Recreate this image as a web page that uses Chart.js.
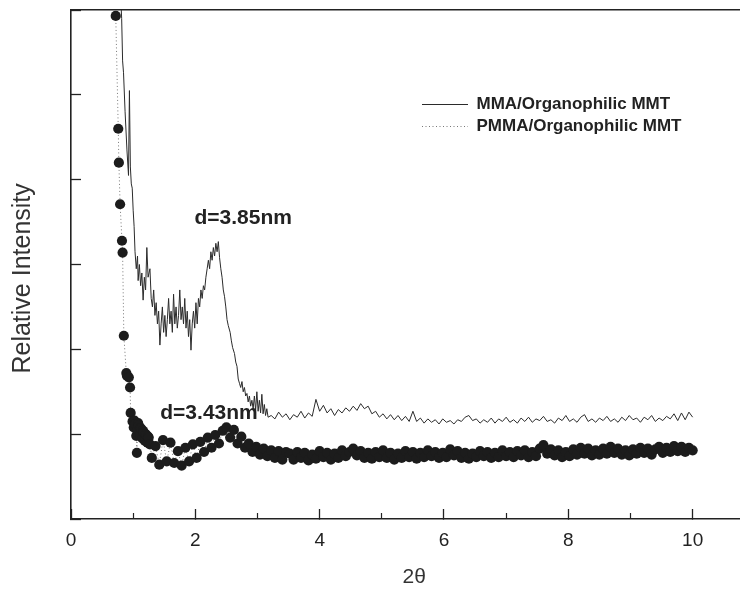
<!DOCTYPE html>
<html>
<head>
<meta charset="utf-8">
<script src="https://cdn.jsdelivr.net/npm/chart.js@4.4.1/dist/chart.umd.min.js"></script>
<style>
  html, body { margin: 0; padding: 0; background: #fff; }
  #wrap { width: 745px; height: 594px; }
</style>
</head>
<body>
<div id="wrap"><canvas id="xrdChart"></canvas></div>
<script>
const FONT = "'Liberation Sans', Arial, Helvetica, sans-serif";

// axes
const xMax = 10.76;
const xMajorTicks = [0, 2, 4, 6, 8, 10];
const xMinorTicks = [1, 3, 5, 7, 9];
const yTicks = [0, 1, 2, 3, 4, 5, 6];

// MMA/Organophilic MMT (solid line) - steep part read point by point
const mmaHead = [
  [0.79, 6.3], [0.815, 5.9], [0.83, 5.4], [0.845, 5.26], [0.87, 4.8], [0.90, 4.35],
  [0.925, 4.05], [0.94, 5.05], [0.955, 4.15], [0.97, 3.95], [0.985, 3.9], [1.00, 3.64],
  [1.015, 3.45], [1.03, 3.15], [1.05, 2.95], [1.07, 3.1], [1.08, 2.81], [1.10, 3.0],
  [1.12, 2.75], [1.14, 2.9], [1.16, 2.58], [1.18, 2.85], [1.20, 2.7], [1.22, 3.2],
  [1.24, 2.85], [1.27, 2.95], [1.29, 2.6], [1.31, 2.5], [1.33, 2.7], [1.35, 2.4],
  [1.37, 2.55], [1.39, 2.3], [1.41, 2.45], [1.43, 2.05], [1.45, 2.3], [1.47, 2.5],
  [1.49, 2.2], [1.51, 2.4], [1.53, 2.15], [1.55, 2.35], [1.57, 2.6], [1.59, 2.3],
  [1.61, 2.45], [1.63, 2.2], [1.65, 2.65], [1.67, 2.3], [1.69, 2.5], [1.71, 2.25],
  [1.73, 2.4], [1.75, 2.7], [1.77, 2.35], [1.79, 2.5], [1.81, 2.3], [1.83, 2.6],
  [1.85, 2.25], [1.87, 2.45], [1.89, 2.15], [1.91, 2.35], [1.93, 1.99], [1.95, 2.3],
  [1.97, 2.45], [1.99, 2.25], [2.01, 2.55], [2.03, 2.3], [2.05, 2.6], [2.07, 2.5],
  [2.09, 2.7], [2.11, 2.6], [2.13, 2.75], [2.15, 2.7], [2.17, 2.85], [2.19, 2.95],
  [2.21, 3.05], [2.23, 2.95], [2.25, 3.15], [2.27, 3.05], [2.29, 3.2], [2.31, 3.1],
  [2.33, 3.25], [2.35, 3.15], [2.37, 3.27], [2.39, 3.08], [2.41, 2.95], [2.43, 2.85],
  [2.45, 2.7], [2.47, 2.62], [2.49, 2.5], [2.51, 2.35], [2.53, 2.28], [2.56, 2.2],
  [2.58, 2.1], [2.60, 2.02], [2.63, 1.95], [2.65, 1.85], [2.67, 1.8], [2.69, 1.65],
  [2.71, 1.6], [2.73, 1.55], [2.75, 1.62], [2.77, 1.5], [2.79, 1.55], [2.81, 1.45],
  [2.83, 1.48], [2.85, 1.38], [2.87, 1.45], [2.89, 1.33], [2.91, 1.4], [2.93, 1.3],
  [2.95, 1.45], [2.97, 1.28], [2.99, 1.5], [3.01, 1.27], [3.03, 1.4], [3.05, 1.25],
  [3.07, 1.47], [3.09, 1.24], [3.11, 1.35], [3.13, 1.22], [3.15, 1.3], [3.17, 1.2]
];
// flat part, sampled every 0.06 from 3.22
const mmaTailStart = 3.22;
const mmaTailStep = 0.06;
const mmaTail = [
  1.22, 1.18, 1.26, 1.2, 1.24, 1.17, 1.23, 1.2, 1.27, 1.19, 1.25, 1.21,
  1.41, 1.27, 1.34, 1.25, 1.3, 1.22, 1.29, 1.25, 1.31, 1.27, 1.33, 1.28,
  1.36, 1.3, 1.33, 1.24, 1.27, 1.2, 1.24, 1.18, 1.23, 1.17, 1.22, 1.16,
  1.21, 1.15, 1.27, 1.15, 1.19, 1.13, 1.18, 1.14, 1.17, 1.12, 1.18, 1.14,
  1.16, 1.12, 1.17, 1.15, 1.2, 1.22, 1.16, 1.18, 1.13, 1.17, 1.14, 1.19,
  1.13, 1.18, 1.15, 1.2, 1.14, 1.17, 1.13, 1.19, 1.15, 1.2, 1.14, 1.18,
  1.16, 1.21, 1.15, 1.17, 1.13, 1.19, 1.16, 1.22, 1.15, 1.18, 1.14, 1.2,
  1.23, 1.15, 1.18, 1.14, 1.19, 1.16, 1.21, 1.15, 1.18, 1.14, 1.2, 1.16,
  1.22, 1.17, 1.19, 1.14, 1.2, 1.17, 1.22, 1.15, 1.19, 1.16, 1.21, 1.18,
  1.24, 1.16, 1.25, 1.17, 1.26, 1.2
];

// PMMA/Organophilic MMT (dots) - steep part
const pmmaHead = [
  [0.72, 5.93], [0.76, 4.6], [0.77, 4.2], [0.79, 3.71], [0.82, 3.28], [0.83, 3.14],
  [0.85, 2.16], [0.89, 1.72], [0.90, 1.69], [0.93, 1.67], [0.95, 1.55], [0.96, 1.25],
  [0.99, 1.15], [1.01, 1.08], [1.02, 1.16], [1.03, 1.12], [1.05, 0.98], [1.06, 0.78],
  [1.07, 1.05], [1.08, 1.13], [1.09, 1.1], [1.11, 0.98], [1.12, 1.07], [1.13, 1.06],
  [1.15, 0.95], [1.16, 1.04], [1.17, 1.02], [1.19, 0.92], [1.20, 1.0], [1.21, 0.99],
  [1.23, 0.9], [1.24, 0.97], [1.25, 0.96], [1.27, 0.88]
];
// rest of the dots, sampled every 0.06 from 1.30
const pmmaTailStart = 1.30;
const pmmaTailStep = 0.06;
const pmmaTail = [
  0.72, 0.86, 0.64, 0.93, 0.68, 0.9, 0.66, 0.8, 0.63, 0.84, 0.68, 0.88, 0.72, 0.91,
  0.79, 0.96, 0.84, 0.99, 0.89, 1.04, 1.08, 0.96, 1.05, 0.89, 0.97, 0.84,
  0.89, 0.79, 0.85, 0.76, 0.83, 0.74, 0.81, 0.72, 0.8, 0.7, 0.79,
  0.77, 0.7, 0.79, 0.72, 0.78, 0.69, 0.76, 0.71, 0.8, 0.73, 0.78, 0.7,
  0.77, 0.72, 0.81, 0.74, 0.79, 0.83, 0.75, 0.8, 0.72, 0.78, 0.71, 0.79,
  0.73, 0.81, 0.72, 0.78, 0.7, 0.77, 0.72, 0.8, 0.73, 0.79, 0.71, 0.78,
  0.73, 0.81, 0.74, 0.79, 0.72, 0.78, 0.73, 0.82, 0.75, 0.8, 0.72, 0.78,
  0.71, 0.77, 0.73, 0.8, 0.74, 0.79, 0.72, 0.78, 0.73, 0.81, 0.74, 0.79,
  0.73, 0.8, 0.75, 0.81, 0.73, 0.79, 0.74, 0.83, 0.87, 0.77, 0.82, 0.75,
  0.81, 0.73, 0.79, 0.74, 0.82, 0.76, 0.84, 0.77, 0.83, 0.75, 0.81, 0.76,
  0.83, 0.77, 0.85, 0.78, 0.83, 0.76, 0.81, 0.75, 0.82, 0.77, 0.84, 0.78,
  0.83, 0.76, 0.82, 0.85, 0.78, 0.84, 0.79, 0.86, 0.8, 0.85, 0.79, 0.84, 0.81
];

const seriesLabels = ['MMA/Organophilic MMT', 'PMMA/Organophilic MMT'];

// peak labels, placed in data units
const peakNotes = [
  { text: 'd=3.85nm', x: 2.77, y: 3.54 },
  { text: 'd=3.43nm', x: 2.22, y: 1.25 }
];

function toPoints(head, start, step, tail) {
  const pts = head.map(p => ({ x: p[0], y: p[1] }));
  tail.forEach((v, i) => pts.push({ x: +(start + i * step).toFixed(2), y: v }));
  return pts;
}

const notePlugin = {
  id: 'peakNotes',
  afterDatasetsDraw(chart) {
    const { ctx, scales: { x, y } } = chart;
    ctx.save();
    ctx.font = 'bold 21px ' + FONT;
    ctx.fillStyle = '#222';
    ctx.textAlign = 'center';
    ctx.textBaseline = 'middle';
    peakNotes.forEach(n => ctx.fillText(n.text, x.getPixelForValue(n.x), y.getPixelForValue(n.y)));
    ctx.restore();
  }
};

// move the legend box inside the plot, upper right
const legendSpot = { left: 417, top: 91 };
const legendPlacer = {
  id: 'legendPlacer',
  afterLayout(chart) {
    const lg = chart.legend;
    if (!lg) return;
    lg.left = legendSpot.left;
    lg.top = legendSpot.top;
    lg.right = lg.left + 300;
    lg.bottom = lg.top + 200;
  }
};

const ctx = document.getElementById('xrdChart').getContext('2d');

new Chart(ctx, {
  type: 'line',
  data: {
    datasets: [{
      label: seriesLabels[0],
      data: toPoints(mmaHead, mmaTailStart, mmaTailStep, mmaTail),
      borderColor: '#2b2b2b',
      borderWidth: 1,
      pointRadius: 0,
      tension: 0,
      fill: false
    }, {
      label: seriesLabels[1],
      data: toPoints(pmmaHead, pmmaTailStart, pmmaTailStep, pmmaTail),
      borderColor: '#777',
      borderWidth: 1,
      borderDash: [1, 2.5],
      pointRadius: 5.1,
      pointBackgroundColor: '#1c1c1c',
      pointBorderWidth: 0,
      tension: 0,
      fill: false
    }]
  },
  options: {
    animation: false,
    responsive: true,
    maintainAspectRatio: false,
    devicePixelRatio: 1,
    layout: { padding: 0 },
    plugins: {
      tooltip: { enabled: false },
      legend: {
        position: 'chartArea',
        align: 'start',
        labels: {
          usePointStyle: true,
          pointStyleWidth: 46,
          padding: 5,
          color: '#222',
          font: { family: FONT, size: 17, weight: 'bold' },
          generateLabels: chart => chart.data.datasets.map((ds, i) => ({
            text: ds.label,
            strokeStyle: ds.borderColor,
            fillStyle: ds.borderColor,
            lineWidth: 1,
            lineDash: ds.borderDash || [],
            pointStyle: 'line',
            fontColor: '#222',
            hidden: false,
            datasetIndex: i
          }))
        }
      }
    },
    scales: {
      x: {
        type: 'linear',
        position: 'bottom',
        min: 0,
        max: xMax,
        afterBuildTicks: s => { s.ticks = xMajorTicks.map(v => ({ value: v })); },
        afterFit: s => { s.height = 75; },
        ticks: { color: '#222', font: { family: FONT, size: 19 }, padding: 20, maxRotation: 0 },
        grid: { drawOnChartArea: false, tickLength: -10, tickColor: '#222', tickWidth: 1.3 },
        border: { color: '#222', width: 1.6 },
        title: {
          display: true,
          text: '\u00a0\u00a0\u00a02θ',
          color: '#333',
          font: { family: FONT, size: 21 },
          padding: { top: 0, bottom: 4 }
        }
      },
      xMinor: {
        type: 'linear',
        position: { y: 0 },
        min: 0,
        max: xMax,
        afterBuildTicks: s => { s.ticks = xMinorTicks.map(v => ({ value: v })); },
        ticks: { display: false },
        grid: { drawOnChartArea: false, tickLength: -6, tickColor: '#222', tickWidth: 1.2 },
        border: { display: false }
      },
      xTop: {
        type: 'linear',
        position: 'top',
        min: 0,
        max: xMax,
        afterFit: s => { s.height = 10; },
        ticks: { display: false },
        grid: { display: false },
        border: { display: true, color: '#222', width: 1.6 }
      },
      y: {
        type: 'linear',
        min: 0,
        max: 6,
        afterBuildTicks: s => { s.ticks = yTicks.map(v => ({ value: v })); },
        afterFit: s => { s.width = 71; },
        ticks: { display: false },
        grid: { drawOnChartArea: false, tickLength: -10, tickColor: '#222', tickWidth: 1.3 },
        border: { color: '#222', width: 1.6 },
        title: {
          display: true,
          text: 'Relative Intensity\u00a0\u00a0\u00a0\u00a0',
          color: '#333',
          font: { family: FONT, size: 25 },
          padding: { top: 8, bottom: 0 }
        }
      }
    }
  },
  plugins: [notePlugin, legendPlacer]
});
</script>
</body>
</html>
